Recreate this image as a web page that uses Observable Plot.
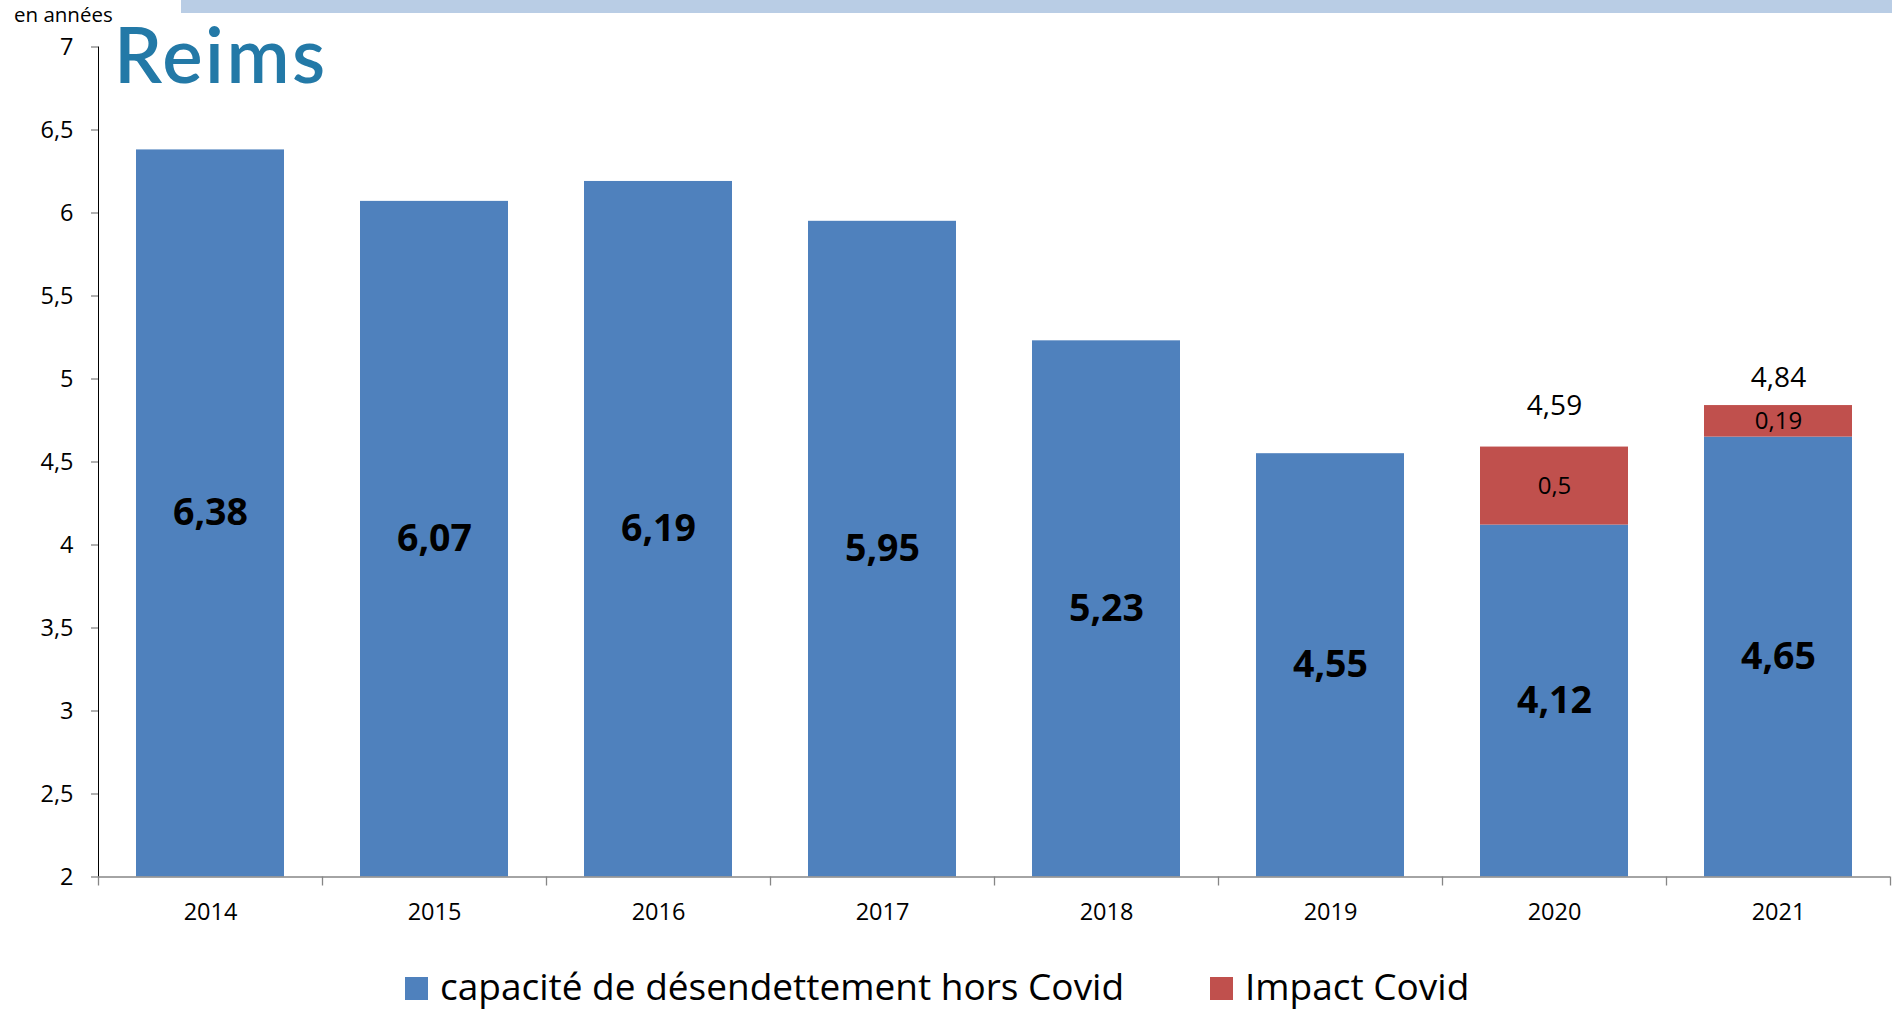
<!DOCTYPE html>
<html>
<head>
<meta charset="utf-8">
<script src="https://cdn.jsdelivr.net/npm/d3@7"></script>
<script src="https://cdn.jsdelivr.net/npm/@observablehq/plot@0.6"></script>
<style>
  html, body { margin: 0; padding: 0; background: #fff; }
  #page { position: relative; width: 1892px; height: 1010px; overflow: hidden; font-family: "Open Sans", sans-serif; }
  #chart { position: absolute; left: 0; top: 0; }
  #deco { position: absolute; left: 0; top: 0; pointer-events: none; }
  #chart [aria-label^="y-axis"] line, #chart [aria-label^="y-axis"] path { stroke: #868686; stroke-width: 1.3px; }
</style>
</head>
<body>
<div id="page">
  <div id="chart"></div>
  <svg id="deco" width="1892" height="1010"></svg>
</div>
<script>
// ---- data ----
const years = ["2014", "2015", "2016", "2017", "2018", "2019", "2020", "2021"];
const horsCovid = [6.38, 6.07, 6.19, 5.95, 5.23, 4.55, 4.12, 4.65];
const impactCovid = [0, 0, 0, 0, 0, 0, 0.47, 0.19];
const impactLabels = ["", "", "", "", "", "", "0,5", "0,19"];
const totalLabels = ["", "", "", "", "", "", "4,59", "4,84"];
const yTicks = [2, 2.5, 3, 3.5, 4, 4.5, 5, 5.5, 6, 6.5, 7];
const seriesNames = ["capacité de désendettement hors Covid", "Impact Covid"];
const unitLabel = "en années";
const logoText = "Reims";

const BLUE = "#4f81bd", RED = "#c0504d", AXIS = "#868686";

const rows = years.map((year, i) => ({
  year, hors: horsCovid[i], impact: impactCovid[i],
  impactLabel: impactLabels[i], totalLabel: totalLabels[i]
}));
const fmt = v => String(v).replace(".", ",");
const fmt2 = v => v.toFixed(2).replace(".", ",");

const W = 1892, H = 940, ML = 98, MR = 2, MT = 46.5, MB = 63.5;
const step = (W - ML - MR) / years.length;

const chart = Plot.plot({
  width: W, height: H,
  marginLeft: ML, marginRight: MR, marginTop: MT, marginBottom: MB,
  style: { fontFamily: "Open Sans, sans-serif", fontSize: "23.5px", color: "#000", background: "#fff" },
  x: { type: "band", domain: years, paddingInner: 0.34, paddingOuter: 0.17, axis: null },
  y: { domain: [2, 7], ticks: yTicks, tickFormat: fmt, tickSize: 7, tickPadding: 18, label: null, line: true },
  marks: [
    Plot.barY(rows, { x: "year", y1: 2, y2: "hors", fill: BLUE }),
    Plot.barY(rows.filter(d => d.impact > 0), { x: "year", y1: "hors", y2: d => d.hors + d.impact, fill: RED }),
    // x axis baseline and category boundary ticks
    Plot.ruleY([2], { stroke: AXIS, strokeWidth: 1.3 }),
    Plot.ruleX(years, { x: d => d, y1: 2, y2: 2, insetBottom: -9, dx: -step / 2, stroke: AXIS, strokeWidth: 1.3 }),
    Plot.ruleX(years.slice(-1), { x: d => d, y1: 2, y2: 2, insetBottom: -9, dx: step / 2, stroke: AXIS, strokeWidth: 1.3 }),
    // x tick labels
    Plot.text(years, { x: d => d, y: 2, dy: 35, text: d => d, fontSize: 23.5, fill: "#000" }),
    // value labels
    Plot.text(rows, { x: "year", y: d => (2 + d.hors) / 2, text: d => fmt2(d.hors), fontSize: 37.5, fontWeight: "bold", fill: "#000" }),
    Plot.text(rows.filter(d => d.impact > 0), { x: "year", y: d => d.hors + d.impact / 2, text: "impactLabel", fontSize: 24, fill: "#000" }),
    Plot.text(rows.filter(d => d.year === "2020"), { x: "year", y: d => d.hors + d.impact, dy: -41, text: "totalLabel", fontSize: 28, fill: "#000" }),
    Plot.text(rows.filter(d => d.year === "2021"), { x: "year", y: d => d.hors + d.impact, dy: -28, text: "totalLabel", fontSize: 28, fill: "#000" })
  ]
});
document.getElementById("chart").appendChild(chart);

// ---- decorations: header band, unit label, logo, legend ----
const deco = d3.select("#deco");
deco.append("rect").attr("x", 181).attr("y", 0).attr("width", W - 181).attr("height", 13).attr("fill", "#b9cde5");
deco.append("text").attr("x", 14).attr("y", 21.5).attr("font-family", "Open Sans, sans-serif")
  .attr("font-size", 20.5).attr("fill", "#000").text(unitLabel);
deco.append("text").attr("x", 114).attr("y", 83).attr("font-family", "Lato, sans-serif")
  .attr("font-size", 76).attr("font-weight", 600).attr("fill", "#2379a7").attr("letter-spacing", 2.5).text(logoText);

const legendItems = [
  { name: seriesNames[0], color: BLUE, x: 405 },
  { name: seriesNames[1], color: RED, x: 1210 }
];
legendItems.forEach(it => {
  deco.append("rect").attr("x", it.x).attr("y", 977).attr("width", 23).attr("height", 23).attr("fill", it.color);
  deco.append("text").attr("x", it.x + 35).attr("y", 1000).attr("font-family", "Open Sans, sans-serif")
    .attr("font-size", 37).attr("fill", "#000").text(it.name);
});
</script>
</body>
</html>
